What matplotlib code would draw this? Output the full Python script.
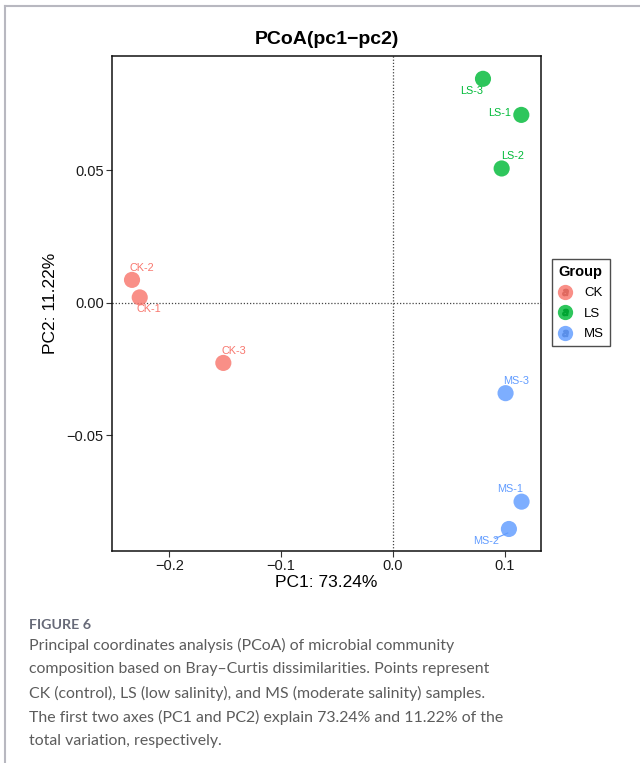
import numpy as np
import matplotlib
matplotlib.use('Agg')
import matplotlib.pyplot as plt
from matplotlib.lines import Line2D
from matplotlib.legend_handler import HandlerTuple

# PCoA 좌표
samples = ['CK-1', 'CK-2', 'CK-3', 'LS-1', 'LS-2', 'LS-3', 'MS-1', 'MS-2', 'MS-3']
groups = ['CK', 'CK', 'CK', 'LS', 'LS', 'LS', 'MS', 'MS', 'MS']
pc1 = [-0.2265, -0.2334, -0.1517, 0.1149, 0.0973, 0.0806, 0.1151, 0.1038, 0.1008]
pc2 = [0.0020, 0.0086, -0.0227, 0.0708, 0.0506, 0.0844, -0.0750, -0.0853, -0.0341]
group_names = ['CK', 'LS', 'MS']
pc1_pct = 73.24
pc2_pct = 11.22

# 라벨 위치 오프셋 (ggrepel 모양 흉내)
lab_dx = [0.0086, 0.0092, 0.0090, -0.0194, 0.0095, -0.0099, -0.0101, -0.0203, 0.0093]
lab_dy = [-0.0045, 0.0044, 0.0045, 0.0008, 0.0047, -0.0046, 0.0047, -0.0044, 0.0045]

colors = {'CK': '#F8766D', 'LS': '#00BA38', 'MS': '#619CFF'}
dark = {'CK': '#e0695f', 'LS': '#00a532', 'MS': '#5a8fe8'}

plt.rcParams['font.family'] = ['Liberation Sans', 'DejaVu Sans']

fig = plt.figure(figsize=(6.4, 7.63), dpi=100)
ax = fig.add_axes([112 / 640, 1 - 551 / 763, (541 - 112) / 640, (551 - 56) / 763])

ax.axhline(0, color='#444444', linestyle=(0, (1, 1.5)), linewidth=0.9, zorder=1)
ax.axvline(0, color='#444444', linestyle=(0, (1, 1.5)), linewidth=0.9, zorder=1)

for i, s in enumerate(samples):
    g = groups[i]
    ax.scatter(pc1[i], pc2[i], s=135, color=colors[g], alpha=0.82, edgecolors='none', zorder=3)
    tx, ty = pc1[i] + lab_dx[i], pc2[i] + lab_dy[i]
    ax.text(tx, ty, s, color=colors[g], fontsize=7.8, ha='center', va='center', zorder=4)
    if s == 'MS-2':
        ax.plot([tx + 0.008, pc1[i] - 0.001], [ty + 0.0008, pc2[i] - 0.0015], color=colors[g], lw=0.8, zorder=2)

ax.set_xlim(-0.2513, 0.1325)
ax.set_ylim(-0.0936, 0.0930)
ax.set_xticks([-0.2, -0.1, 0.0, 0.1])
ax.set_xticklabels(['\u22120.2', '\u22120.1', '0.0', '0.1'])
ax.set_yticks([-0.05, 0.0, 0.05])
ax.set_yticklabels(['\u22120.05', '0.00', '0.05'])
ax.tick_params(labelsize=10.5, length=4, width=0.8, color='#333333', labelcolor='#1a1a1a', pad=2)
for sp in ax.spines.values():
    sp.set_linewidth(1.1)
    sp.set_color('#111111')

ax.set_xlabel('PC1: %.2f%%' % pc1_pct, fontsize=12.5, labelpad=1)
ax.set_ylabel('PC2: %.2f%%' % pc2_pct, fontsize=12.5, labelpad=6)
ax.set_title('PCoA(pc1\u2212pc2)', fontsize=14, fontweight='bold', pad=9)

handles = []
for g in group_names:
    c = Line2D([], [], marker='o', linestyle='none', markersize=11, markerfacecolor=colors[g],
               markeredgecolor='none', alpha=0.82)
    a = Line2D([], [], marker='$a$', linestyle='none', markersize=4.5, color=dark[g])
    handles.append((c, a))
leg = fig.legend(handles, group_names, handler_map={tuple: HandlerTuple(ndivide=1)},
                 loc='upper left', bbox_to_anchor=(552 / 640, 1 - 259 / 763),
                 title='Group', fontsize=9.5, title_fontproperties={'weight': 'bold', 'size': 10.5},
                 frameon=True, fancybox=False, handlelength=1.0, handletextpad=1.0,
                 labelspacing=0.62, borderpad=0.45, borderaxespad=0, alignment='left')
leg.get_frame().set_edgecolor('#222222')
leg.get_frame().set_linewidth(1.0)

# 페이지 테두리
fig.add_artist(Line2D([5 / 640, 5 / 640], [0, 1 - 6 / 763], color='#b8b8c0', lw=1.5, transform=fig.transFigure))
fig.add_artist(Line2D([5 / 640, 1], [1 - 6 / 763, 1 - 6 / 763], color='#b8b8c0', lw=1.5, transform=fig.transFigure))

# 캡션
fig.text(29 / 640, 1 - 625 / 763, 'FIGURE 6', fontsize=10.3, fontweight='bold', color='#676a78',
         family=['Lato', 'DejaVu Sans'], va='center')
caption = ['Principal coordinates analysis (PCoA) of microbial community',
           'composition based on Bray\u2013Curtis dissimilarities. Points represent',
           'CK (control), LS (low salinity), and MS (moderate salinity) samples.',
           'The first two axes (PC1 and PC2) explain 73.24% and 11.22% of the',
           'total variation, respectively.']
for k, line in enumerate(caption):
    fig.text(29 / 640, 1 - (645 + 24 * k) / 763, line, fontsize=11.4, color='#5c5c5c',
             family=['Lato', 'DejaVu Sans'], va='center')

fig.savefig('out.png', dpi=100)
